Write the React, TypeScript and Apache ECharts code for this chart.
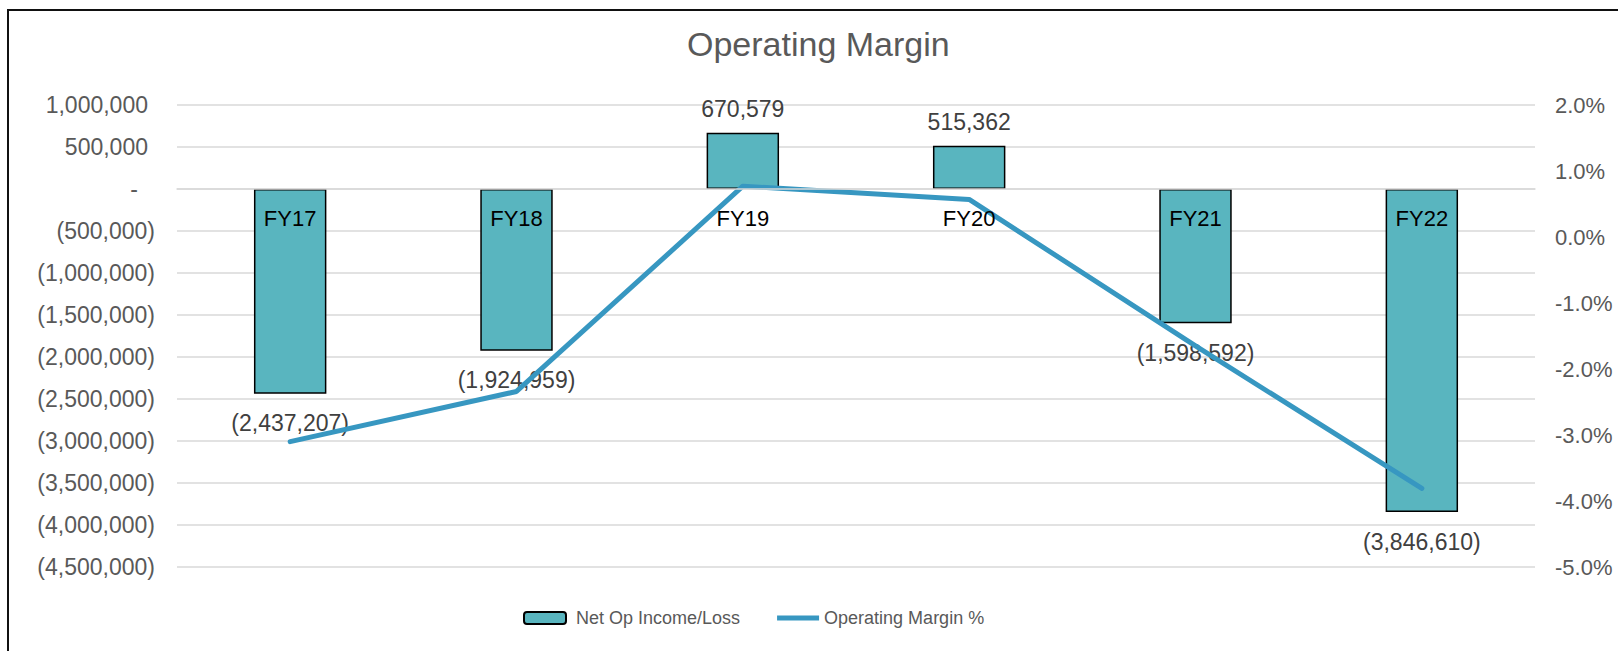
import React, { useEffect, useRef } from "react";
import * as echarts from "echarts";

const categories = ["FY17", "FY18", "FY19", "FY20", "FY21", "FY22"];
const netOpIncome = [-2437207, -1924959, 670579, 515362, -1598592, -3846610];
const operatingMarginPct = [-3.1, -2.34, 0.77, 0.57, -1.65, -3.81];

const FONT = "'Liberation Sans', Arial, sans-serif";

const fmtAcct = (v: number) => {
  if (v === 0) return "-";
  const s = Math.abs(Math.round(v)).toLocaleString("en-US");
  return v < 0 ? `(${s})` : s;
};

export default function App() {
  const ref = useRef<HTMLDivElement>(null);
  useEffect(() => {
    if (!ref.current) return;
    const chart = echarts.init(ref.current, undefined, { renderer: "svg" });
    const base = { fontSize: 23, color: "#595959", fontFamily: FONT };
    const axisRich = {
      pos: { ...base, padding: [0, 7, 0, 0] },
      zero: { ...base, padding: [0, 17, 0, 0] },
      neg: { ...base },
    };
    chart.setOption({
      animation: false,
      backgroundColor: "#ffffff",
      title: {
        text: "Operating Margin",
        left: 682,
        top: 22,
        padding: 5,
        textStyle: { fontSize: 34, fontWeight: "normal", color: "#595959", fontFamily: FONT },
      },
      graphic: [
        {
          type: "rect",
          shape: { x: 8, y: 10, width: 3000, height: 3000 },
          style: { fill: "none", stroke: "#111111", lineWidth: 2 },
          silent: true,
        },
      ],
      legend: {
        left: 518,
        top: 604,
        itemWidth: 42,
        itemHeight: 12,
        itemGap: 37,
        textStyle: { fontSize: 18, color: "#595959", fontFamily: FONT },
        data: [
          { name: "Net Op Income/Loss", textStyle: { padding: [0, 0, 0, 5] } },
          {
            name: "Operating Margin %",
            icon: "path://M0,0 L44,0 L44,5 L0,5 Z",
            itemStyle: { color: "#3797c1" },
          },
        ],
      },
      grid: { left: 177, right: 83, top: 105, bottom: 84, containLabel: false },
      xAxis: {
        type: "category",
        data: categories,
        z: 10,
        offset: -378,
        axisLine: { onZero: false, lineStyle: { color: "#d9d9d9", width: 1.5 } },
        axisTick: { show: false },
        axisLabel: { margin: 18, fontSize: 22, color: "#000000", fontFamily: FONT },
      },
      yAxis: [
        {
          type: "value",
          min: -4500000,
          max: 1000000,
          interval: 500000,
          axisLine: { show: false },
          axisTick: { show: false },
          splitLine: { lineStyle: { color: "#d9d9d9", width: 1.5 } },
          axisLabel: {
            margin: 22,
            formatter: (v: number) =>
              v === 0 ? "{zero|-}" : v > 0 ? `{pos|${fmtAcct(v)}}` : `{neg|${fmtAcct(v)}}`,
            rich: axisRich,
          },
        },
        {
          type: "value",
          min: -5,
          max: 2,
          interval: 1,
          axisLine: { show: false },
          axisTick: { show: false },
          splitLine: { show: false },
          axisLabel: {
            margin: 20,
            fontSize: 22,
            color: "#595959",
            fontFamily: FONT,
            formatter: (v: number) => `${v.toFixed(1)}%`,
          },
        },
      ],
      series: [
        {
          name: "Net Op Income/Loss",
          type: "bar",
          barWidth: "32%",
          itemStyle: { color: "#59b5bf", borderColor: "#000000", borderWidth: 1.5 },
          label: {
            show: true,
            fontSize: 23,
            color: "#404040",
            fontFamily: FONT,
            formatter: (p: any) => fmtAcct(p.value),
          },
          data: netOpIncome.map((v) => ({
            value: v,
            label: { position: v < 0 ? "bottom" : "top", distance: v < 0 ? 18 : 12 },
          })),
        },
        {
          name: "Operating Margin %",
          type: "line",
          yAxisIndex: 1,
          symbol: "none",
          showSymbol: false,
          lineStyle: { color: "#3797c1", width: 5, cap: "round", join: "round" },
          itemStyle: { color: "#3797c1" },
          data: operatingMarginPct,
          z: 3,
        },
      ],
    });
    return () => chart.dispose();
  }, []);
  return (
    <div style={{ position: "fixed", left: 0, top: 0, width: 1618, height: 651, overflow: "hidden", background: "#fff" }}>
      <div ref={ref} style={{ width: 1618, height: 651 }} />
    </div>
  );
}
